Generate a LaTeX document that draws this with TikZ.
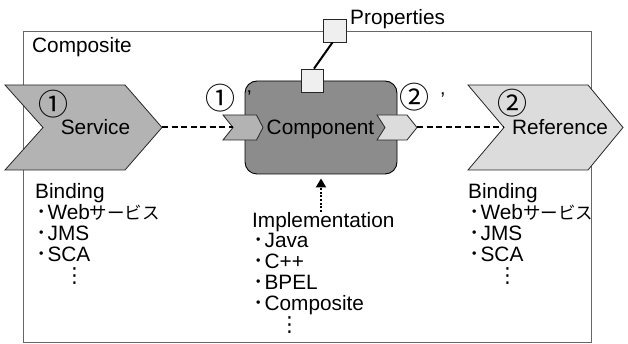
\documentclass[tikz,border=0pt]{standalone}
\usepackage{fontspec}
\setmainfont{Liberation Sans}
\newfontfamily\cjk{Noto Sans CJK JP}
\newfontfamily\djv{DejaVu Sans}
\usetikzlibrary{arrows.meta}
\definecolor{svcgray}{HTML}{B3B3B3}
\definecolor{compgray}{HTML}{8C8C8C}
\definecolor{refgray}{HTML}{DCDCDC}
\definecolor{sqgray}{HTML}{EFEFEF}
\definecolor{framegray}{HTML}{666666}
\newcommand{\kana}[1]{{\cjk\fontsize{17.5}{20.8}\selectfont #1}}
\newcommand{\bul}{\hspace*{1pt}{\cjk\fontsize{20.8}{20.8}\selectfont ･}\hspace*{1pt}}
\begin{document}
\begin{tikzpicture}[x=1pt,y=-1pt,
  lbl/.style={inner sep=0pt, font=\fontsize{20.8}{20.8}\selectfont},
  blk/.style={lbl, align=left, anchor=base west},
  circ/.style={inner sep=0pt, font=\cjk\fontsize{30}{30}\selectfont},
  chev/.style={draw=black!85, line width=0.8pt},
  comprect/.style={draw=black, line width=0.9pt, fill=compgray, rounded corners=12pt,
     minimum width=152pt, minimum height=93pt, inner sep=0pt},
  sq/.style={draw=black!85, line width=0.8pt, fill=sqgray, inner sep=0pt},
  wire/.style={line width=2pt, dash pattern=on 6pt off 3.5pt},
  link/.style={line width=2pt},
  implarrow/.style={line width=2pt, dash pattern=on 2pt off 1.6pt, -{Triangle[width=10pt,length=9pt]}, shorten >=4pt}
]
\useasboundingbox (0,0) rectangle (628,344);
% composite frame
\draw[framegray, line width=0.9pt] (23,31) rectangle (591,342);
\node[lbl, anchor=base west] (complbl) at (32,53) {Composite};

% service chevron
\draw[chev, fill=svcgray] (5,85) -- (125,85) -- (162,127.5) -- (125,170) -- (5,170) -- (43,127.5) -- cycle;
\coordinate (svtip) at (162,127.5);
\node[circ] (svnum) at (53,104) {①};
\node[lbl, anchor=base] (svtxt) at (95.5,135) {Service};

% reference chevron
\draw[chev, fill=refgray] (468,85) -- (588,85) -- (623,127.5) -- (588,170) -- (468,170) -- (504,127.5) -- cycle;
\coordinate (refnotch) at (504,127.5);
\node[circ] (refnum) at (512,103) {②};
\node[lbl, anchor=base] (reftxt) at (560,135) {Reference};

% component
\node[comprect] (comp) at (321,127.5) {};
\node[lbl, anchor=base] (comptxt) at (320.5,135) {Component};

% small chevrons
\draw[chev, fill=svcgray] (223,115) -- (256.5,115) -- (263,127.5) -- (256.5,140) -- (223,140) -- (233,127.5) -- cycle;
\coordinate (inotch) at (233,127.5);
\draw[chev, fill=refgray] (377,115) -- (407,115) -- (417,127.5) -- (407,140) -- (377,140) -- (385,127.5) -- cycle;
\coordinate (otip) at (417,127.5);

% wires
\draw[wire] (svtip) -- (inotch);
\draw[wire] (otip) -- (refnotch);

% interface labels
\node[circ] (ilbl) at (220,98) {①\rlap{\hspace*{12pt}{\rmfamily\fontsize{20}{20}\selectfont\raisebox{5pt}{'}}}};
\node[circ] (olbl) at (414.5,97.5) {②\rlap{\hspace*{11pt}{\rmfamily\fontsize{20}{20}\selectfont\raisebox{2pt}{'}}}};

% properties
\node[sq, minimum width=23pt, minimum height=23pt] (propsq) at (334.5,30.5) {};
\node[sq, minimum width=22pt, minimum height=23pt] (compsq) at (312,80.5) {};
\draw[link] ([xshift=-2pt]propsq.south) -- ([xshift=2pt]compsq.north);
\node[lbl, anchor=base west] (proplbl) at (350,25) {Properties};

% bindings (anchor = baseline of last line)
\node[blk] (bindL) at (35,282.2) {Binding\\\bul Web\kana{サービス}\\\bul JMS\\\bul SCA\\\hspace*{29pt}{\djv ⋮}};
\node[blk] (bindR) at (468,282.2) {Binding\\\bul Web\kana{サービス}\\\bul JMS\\\bul SCA\\\hspace*{29pt}{\djv ⋮}};

% implementation
\node[blk] (impl) at (252,331) {Implementation\\\bul Java\\\bul C++\\\bul BPEL\\\bul Composite\\\hspace*{27pt}{\djv ⋮}};
\draw[implarrow] (impl.north -| comp.south) -- (comp.south);
\end{tikzpicture}
\end{document}
